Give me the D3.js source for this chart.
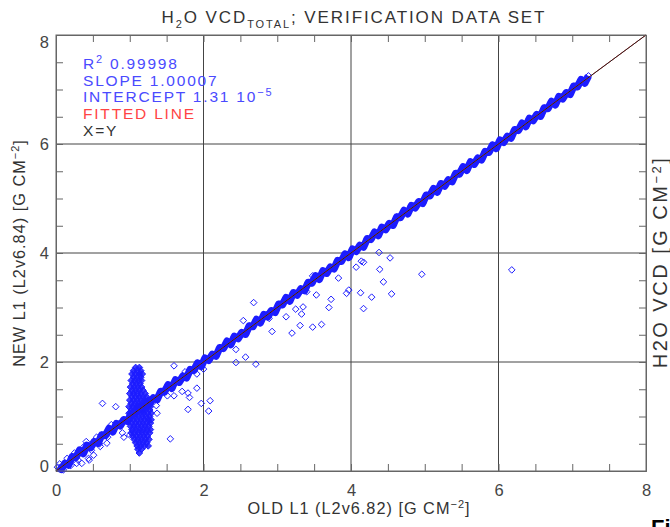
<!DOCTYPE html>
<html>
<head>
<meta charset="utf-8">
<script src="https://cdn.jsdelivr.net/npm/d3@7"></script>
<style>
  body { margin: 0; background: #fff; }
  svg { display: block; font-family: 'Liberation Sans', Arial, sans-serif; }
</style>
</head>
<body>
<div id="chart"></div>
<script>
// axis ticks
const majorTicks = [0, 2, 4, 6, 8];
const gridTicks = [2, 4, 6];

// legend values
const rSquared = '0.99998';
const slope = 1.00007;
const intercept = 1.31e-5;

// dense band of points along x = y
const bandPoints = [
  [0.02,0.07],[0.07,0.03],[0.12,0.14],[0.17,0.11],[0.22,0.26],[0.27,0.25],[0.32,0.38],[0.37,0.32],
  [0.42,0.47],[0.47,0.43],[0.52,0.54],[0.57,0.51],[0.62,0.66],[0.67,0.65],[0.72,0.78],[0.77,0.72],
  [0.82,0.87],[0.87,0.83],[0.92,0.94],[0.97,0.91],[1.02,1.06],[1.07,1.05],[1.12,1.18],[1.17,1.12],
  [1.22,1.27],[1.27,1.23],[1.32,1.34],[1.37,1.31],[1.42,1.46],[1.47,1.45],[1.52,1.58],[1.57,1.52],
  [1.62,1.67],[1.67,1.63],[1.72,1.74],[1.77,1.71],[1.82,1.86],[1.87,1.85],[1.92,1.98],[1.97,1.92],
  [2.02,2.07],[2.07,2.03],[2.12,2.14],[2.17,2.11],[2.22,2.26],[2.27,2.25],[2.32,2.38],[2.37,2.32],
  [2.42,2.47],[2.47,2.43],[2.52,2.54],[2.57,2.51],[2.62,2.66],[2.67,2.65],[2.72,2.78],[2.77,2.72],
  [2.82,2.87],[2.87,2.83],[2.92,2.94],[2.97,2.91],[3.02,3.06],[3.07,3.05],[3.12,3.18],[3.17,3.12],
  [3.22,3.27],[3.27,3.23],[3.32,3.34],[3.37,3.31],[3.42,3.46],[3.47,3.45],[3.52,3.58],[3.57,3.52],
  [3.62,3.67],[3.67,3.63],[3.72,3.74],[3.77,3.71],[3.82,3.86],[3.87,3.85],[3.92,3.98],[3.97,3.92],
  [4.02,4.07],[4.07,4.03],[4.12,4.14],[4.17,4.11],[4.22,4.26],[4.27,4.25],[4.32,4.38],[4.37,4.32],
  [4.42,4.47],[4.47,4.43],[4.52,4.54],[4.57,4.51],[4.62,4.66],[4.67,4.65],[4.72,4.78],[4.77,4.72],
  [4.82,4.87],[4.87,4.83],[4.92,4.94],[4.97,4.91],[5.02,5.06],[5.07,5.05],[5.12,5.18],[5.17,5.12],
  [5.22,5.27],[5.27,5.23],[5.32,5.34],[5.37,5.31],[5.42,5.46],[5.47,5.45],[5.52,5.58],[5.57,5.52],
  [5.62,5.67],[5.67,5.63],[5.72,5.74],[5.77,5.71],[5.82,5.86],[5.87,5.85],[5.92,5.98],[5.97,5.92],
  [6.02,6.07],[6.07,6.03],[6.12,6.14],[6.17,6.11],[6.22,6.26],[6.27,6.25],[6.32,6.38],[6.37,6.32],
  [6.42,6.47],[6.47,6.43],[6.52,6.54],[6.57,6.51],[6.62,6.66],[6.67,6.65],[6.72,6.78],[6.77,6.72],
  [6.82,6.87],[6.87,6.83],[6.92,6.94],[6.97,6.91],[7.02,7.06],[7.07,7.05],[7.12,7.18],[7.17,7.12],
  [7.22,7.25]
];

// extra scatter near the origin
const lowScatter = [
  [0.05,0.13],[0.10,0.02],[0.15,0.23],[0.20,0.10],[0.25,0.33],[0.30,0.20],[0.38,0.45],
  [0.48,0.38],[0.55,0.62],[0.60,0.45],[0.70,0.62],[0.75,0.85]
];

// the vertical cluster near x = 1.1: [y, x values]
const clusterRows = [
  [1.90,[1.08,1.13]],
  [1.84,[1.05,1.10,1.15]],
  [1.78,[1.03,1.08,1.13,1.17]],
  [1.72,[1.05,1.10,1.15]],
  [1.66,[1.02,1.07,1.12,1.16]],
  [1.60,[1.04,1.09,1.14]],
  [1.54,[1.01,1.06,1.11,1.16]],
  [1.48,[1.03,1.08,1.13,1.18]],
  [1.42,[1.00,1.05,1.10,1.15,1.21]],
  [1.36,[1.03,1.08,1.13,1.18,1.23]],
  [1.30,[1.00,1.05,1.10,1.15,1.20,1.25]],
  [1.24,[1.02,1.07,1.12,1.17,1.22,1.27]],
  [1.18,[0.99,1.04,1.09,1.14,1.19,1.24,1.28]],
  [1.12,[1.02,1.07,1.12,1.17,1.22,1.27]],
  [1.06,[0.99,1.04,1.09,1.14,1.19,1.24,1.29]],
  [1.00,[1.02,1.07,1.12,1.17,1.22,1.27]],
  [0.94,[1.00,1.05,1.10,1.15,1.20,1.25,1.29]],
  [0.88,[1.03,1.08,1.13,1.18,1.23,1.28]],
  [0.82,[1.01,1.06,1.11,1.16,1.21,1.26]],
  [0.76,[1.03,1.08,1.13,1.18,1.23,1.28]],
  [0.70,[1.02,1.07,1.12,1.17,1.22,1.27]],
  [0.64,[1.04,1.09,1.14,1.19,1.24]],
  [0.58,[1.06,1.11,1.16,1.21,1.26]],
  [0.52,[1.08,1.13,1.18,1.23]],
  [0.46,[1.10,1.15,1.20,1.25]],
  [0.40,[1.11,1.16]],
  [0.33,[1.13]]
];

// points away from the band
const outliers = [
  [4.38,4.01],[4.53,3.91],[4.14,3.85],[4.17,3.83],[4.07,3.74],[4.39,3.70],[4.96,3.61],[6.18,3.69],
  [4.44,3.47],[3.83,3.54],[3.48,3.58],[3.40,3.29],[3.53,3.23],[3.97,3.32],[3.94,3.26],[4.13,3.27],
  [4.28,3.19],[4.55,3.25],[3.73,3.15],[3.70,3.00],[4.17,2.98],[3.25,2.97],[3.35,3.01],[3.33,2.88],
  [3.12,2.83],[2.89,2.80],[2.68,3.09],[2.54,2.76],[3.31,2.67],[3.48,2.64],[3.60,2.69],[2.93,2.56],
  [3.20,2.53],[2.44,2.23],[2.57,2.09],[2.44,1.99],[2.71,1.96],
  [1.60,1.93],[0.63,1.24],[0.81,1.18],[1.75,1.82],[2.00,1.87],[1.91,1.78],[1.91,1.52],[1.71,1.46],
  [1.79,1.43],[1.81,1.35],[1.60,1.38],[1.51,1.38],[2.09,1.29],[1.97,1.24],[2.07,1.10],[1.79,1.13],
  [1.37,1.06],[1.36,1.20],[1.55,0.59],[0.92,0.62],[0.90,0.70],[1.00,0.66],[0.69,0.51],[0.59,0.50],
  [0.51,0.29],[0.41,0.54],[0.45,0.20],[0.44,0.23],[0.35,0.14],[0.28,0.14]
];

const width = 670, height = 527;
const plot = { left: 56, right: 646, top: 35, bottom: 471 };
const textColor = '#333';
const blue = '#1c1cff';

const svg = d3.select('#chart').append('svg')
  .attr('width', width)
  .attr('height', height);

const x = d3.scaleLinear().domain([0, 8]).range([plot.left, plot.right]);
const y = d3.scaleLinear().domain([0, 8]).range([plot.bottom, plot.top]);

const minorTicks = d3.range(0, 8.001, 0.5);
const frameColor = '#666';

// grid
svg.append('g').selectAll('line')
  .data(gridTicks).enter().append('line')
  .attr('x1', d => x(d)).attr('x2', d => x(d))
  .attr('y1', plot.top).attr('y2', plot.bottom)
  .attr('stroke', '#444').attr('stroke-width', 1);
svg.append('g').selectAll('line')
  .data(gridTicks).enter().append('line')
  .attr('y1', d => y(d)).attr('y2', d => y(d))
  .attr('x1', plot.left).attr('x2', plot.right)
  .attr('stroke', '#444').attr('stroke-width', 1);

// tick marks on all four sides
function tickAxis(axis, tx, ty) {
  const g = svg.append('g')
    .attr('transform', `translate(${tx},${ty})`)
    .call(axis.tickValues(minorTicks).tickSize(-7).tickFormat(''));
  g.selectAll('path, line').attr('stroke', frameColor);
  return g;
}
tickAxis(d3.axisBottom(x), 0, plot.bottom);
tickAxis(d3.axisTop(x), 0, plot.top);
tickAxis(d3.axisLeft(y), plot.left, 0);
tickAxis(d3.axisRight(y), plot.right, 0);

// tick labels
const xl = svg.append('g')
  .attr('transform', `translate(0,${plot.bottom})`)
  .call(d3.axisBottom(x).tickValues(majorTicks).tickSize(0).tickPadding(13).tickFormat(d3.format('d')));
xl.select('.domain').remove();
xl.selectAll('text').attr('font-size', 16.5).attr('fill', '#444')
  .attr('font-family', "'Liberation Sans', Arial, sans-serif");

const yl = svg.append('g')
  .attr('transform', `translate(${plot.left},0)`)
  .call(d3.axisLeft(y).tickValues(majorTicks).tickSize(0).tickPadding(7).tickFormat(d3.format('d')));
yl.select('.domain').remove();
yl.selectAll('text').attr('font-size', 16.5).attr('fill', '#444')
  .attr('font-family', "'Liberation Sans', Arial, sans-serif")
  .attr('y', d => d === 8 ? 7.5 : d === 0 ? -5 : 0);

// data points
const clusterPoints = clusterRows.flatMap(([yy, xs]) => xs.map(xx => [xx, yy]));
const openPoints = bandPoints.concat(lowScatter, outliers);
const r = 3.3;
const diamond = `M0,${-r}L${r},0L0,${r}L${-r},0Z`;

// overlapping markers along the band merge into a solid ribbon
svg.append('path')
  .datum(bandPoints)
  .attr('d', d3.line().x(d => x(d[0])).y(d => y(d[1])))
  .attr('fill', 'none')
  .attr('stroke', blue)
  .attr('stroke-width', 7.5)
  .attr('stroke-linejoin', 'round');

svg.append('g').selectAll('path')
  .data(clusterPoints).enter().append('path')
  .attr('d', diamond)
  .attr('transform', d => `translate(${x(d[0])},${y(d[1])})`)
  .attr('fill', blue)
  .attr('fill-opacity', 0.85)
  .attr('stroke', blue)
  .attr('stroke-width', 1);

svg.append('g').selectAll('path')
  .data(openPoints).enter().append('path')
  .attr('d', diamond)
  .attr('transform', d => `translate(${x(d[0])},${y(d[1])})`)
  .attr('fill', 'none')
  .attr('stroke', blue)
  .attr('stroke-width', 1);

// fitted line and x = y
svg.append('line')
  .attr('x1', x(0)).attr('y1', y(intercept))
  .attr('x2', x(8)).attr('y2', y(slope * 8 + intercept))
  .attr('stroke', '#ff3333').attr('stroke-width', 1);
svg.append('line')
  .attr('x1', x(0)).attr('y1', y(0))
  .attr('x2', x(8)).attr('y2', y(8))
  .attr('stroke', '#222').attr('stroke-width', 1);

// frame
svg.append('rect')
  .attr('x', plot.left).attr('y', plot.top)
  .attr('width', plot.right - plot.left).attr('height', plot.bottom - plot.top)
  .attr('fill', 'none').attr('stroke', frameColor);

// title
const title = svg.append('text')
  .attr('x', 354).attr('y', 23)
  .attr('text-anchor', 'middle')
  .attr('font-size', 17).attr('letter-spacing', 1.9).attr('fill', textColor);
title.append('tspan').text('H');
title.append('tspan').attr('dy', 5).attr('font-size', 11).text('2');
title.append('tspan').attr('dy', -5).text('O VCD');
title.append('tspan').attr('dy', 5).attr('font-size', 11).text('TOTAL');
title.append('tspan').attr('dy', -5).text('; VERIFICATION DATA SET');

// legend
const legend = [
  { parts: [['R'], ['2', 'sup'], [' ' + rSquared]], color: '#4a4aff' },
  { parts: [['SLOPE ' + slope.toFixed(5)]], color: '#4a4aff' },
  { parts: [['INTERCEPT 1.31 10'], ['\u22125', 'sup']], color: '#4a4aff' },
  { parts: [['FITTED LINE']], color: '#ff4444' },
  { parts: [['X=Y']], color: textColor }
];
legend.forEach((item, i) => {
  const t = svg.append('text')
    .attr('x', 83).attr('y', 69 + i * 16.7)
    .attr('font-size', 15.5).attr('letter-spacing', 1.8).attr('fill', item.color);
  let shifted = false;
  item.parts.forEach(([s, kind]) => {
    const ts = t.append('tspan').text(s);
    if (kind === 'sup') { ts.attr('dy', -6).attr('font-size', 11); shifted = true; }
    else if (shifted) { ts.attr('dy', 6); shifted = false; }
  });
});

// axis titles
function unitLabel(g, prefix, supSize) {
  g.append('tspan').text(prefix + ' [G CM');
  g.append('tspan').attr('dy', -6).attr('font-size', supSize).text('\u22122');
  g.append('tspan').attr('dy', 6).text(']');
}
const xt = svg.append('text')
  .attr('x', 359).attr('y', 513.5)
  .attr('text-anchor', 'middle')
  .attr('font-size', 16.3).attr('letter-spacing', 1).attr('fill', textColor);
unitLabel(xt, 'OLD L1 (L2v6.82)', 11);

const yt = svg.append('text')
  .attr('transform', `translate(25,${(plot.top + plot.bottom) / 2}) rotate(-90)`)
  .attr('text-anchor', 'middle')
  .attr('font-size', 16.3).attr('letter-spacing', 1).attr('fill', textColor);
unitLabel(yt, 'NEW L1 (L2v6.84)', 11);

const rt = svg.append('text')
  .attr('transform', `translate(667,262) rotate(-90)`)
  .attr('text-anchor', 'middle')
  .attr('font-size', 20).attr('letter-spacing', 2.5).attr('fill', textColor);
unitLabel(rt, 'H2O VCD', 13);

// cut-off caption fragment at bottom right
svg.append('text')
  .attr('x', 651).attr('y', 535)
  .attr('font-size', 22).attr('font-weight', 'bold').attr('fill', '#000')
  .text('Fi');
</script>
</body>
</html>
